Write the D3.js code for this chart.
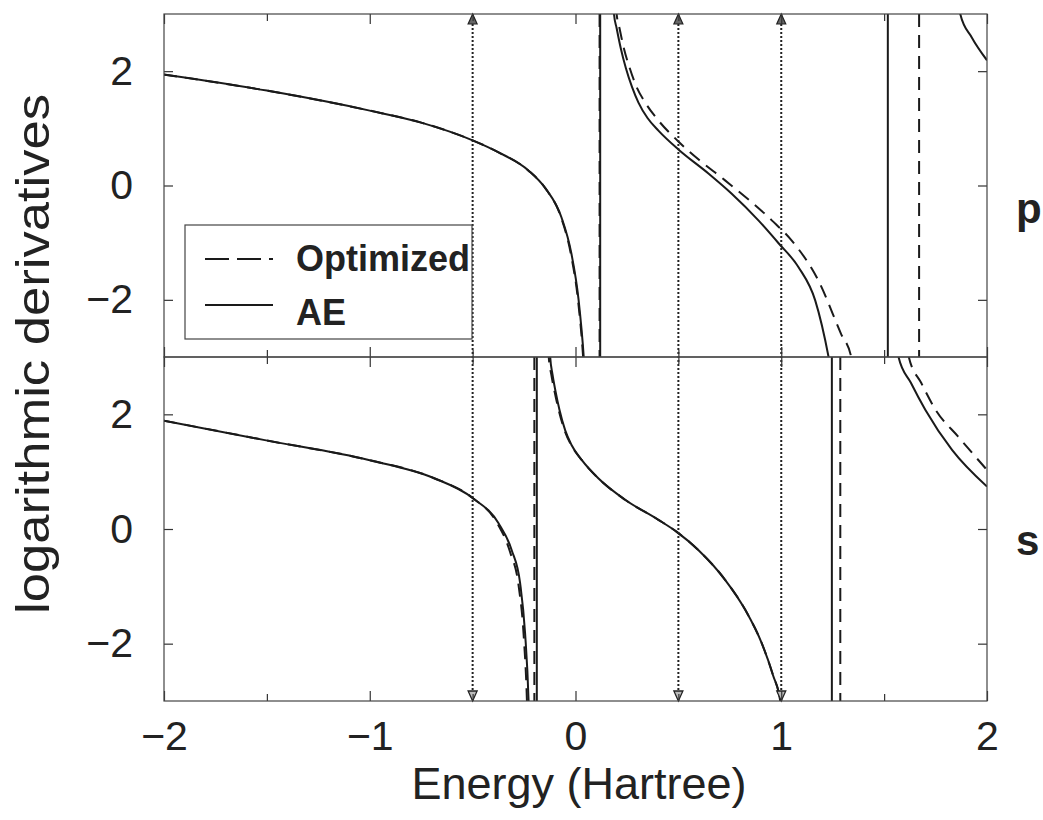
<!DOCTYPE html>
<html>
<head>
<meta charset="utf-8">
<script src="https://cdn.jsdelivr.net/npm/d3@7"></script>
<style>
  body { margin: 0; background: #fff; }
  text { font-family: "Liberation Sans", Arial, sans-serif; fill: #222; }
</style>
</head>
<body>
<svg id="chart" width="1043" height="820"></svg>
<script>
// p channel (top panel), branches between poles: [energy, log derivative]
const pAE1 = [[-2, 1.94], [-1.5, 1.66], [-1, 1.31], [-0.75, 1.1], [-0.5, 0.79], [-0.374, 0.58], [-0.228, 0.26], [-0.146, -0.05], [-0.068, -0.56], [-0.02, -1.19], [0.015, -2.0], [0.04, -3.0], [0.05, -3.6]];
const pOpt1 = [[-2, 1.94], [-1.5, 1.66], [-1, 1.31], [-0.75, 1.1], [-0.5, 0.79], [-0.374, 0.58], [-0.228, 0.26], [-0.146, -0.05], [-0.07, -0.56], [-0.023, -1.19], [0.012, -2.0], [0.037, -3.0], [0.047, -3.6]];
const pAE2 = [[0.18, 3.5], [0.187, 3.0], [0.2, 2.75], [0.22, 2.4], [0.245, 2.05], [0.275, 1.72], [0.306, 1.45], [0.35, 1.18], [0.403, 0.96], [0.5, 0.63], [0.646, 0.21], [0.758, -0.14], [0.889, -0.61], [0.987, -1.01], [1.084, -1.43], [1.165, -2.01], [1.23, -3.0], [1.25, -3.4]];
const pOpt2 = [[0.193, 3.5], [0.2, 3.0], [0.214, 2.75], [0.235, 2.4], [0.262, 2.07], [0.295, 1.74], [0.339, 1.45], [0.4, 1.15], [0.5, 0.77], [0.6, 0.45], [0.727, 0.09], [0.954, -0.61], [1.05, -0.96], [1.18, -1.66], [1.29, -2.59], [1.34, -3.0], [1.355, -3.4]];
const pAE3 = [[1.85, 3.4], [1.87, 3.0], [1.926, 2.59], [2.0, 2.19]];
const pPolesAE = [0.12, 1.518];
const pPolesOpt = [0.117, 1.67];

// s channel (bottom panel)
const sAE1 = [[-2, 1.89], [-1.51, 1.55], [-1.0, 1.2], [-0.69, 0.89], [-0.5, 0.54], [-0.374, 0.1], [-0.31, -0.37], [-0.269, -0.95], [-0.245, -1.82], [-0.228, -3.0], [-0.224, -3.5]];
const sOpt1 = [[-2, 1.89], [-1.51, 1.55], [-1.0, 1.2], [-0.69, 0.89], [-0.5, 0.54], [-0.38, 0.1], [-0.318, -0.4], [-0.276, -1.0], [-0.252, -1.85], [-0.236, -3.0], [-0.232, -3.5]];
const sAE2 = [[-0.127, 3.5], [-0.123, 3.0], [-0.112, 2.7], [-0.097, 2.4], [-0.078, 2.08], [-0.05, 1.72], [-0.02, 1.47], [0.031, 1.2], [0.112, 0.88], [0.241, 0.51], [0.403, 0.16], [0.492, -0.05], [0.598, -0.37], [0.728, -0.89], [0.825, -1.41], [0.906, -2.0], [0.96, -2.55], [0.995, -3.0], [1.005, -3.3]];
const sOpt2 = [[-0.134, 3.5], [-0.13, 3.0], [-0.118, 2.7], [-0.102, 2.4], [-0.082, 2.08], [-0.053, 1.72], [-0.022, 1.47], [0.031, 1.2], [0.112, 0.88], [0.241, 0.51], [0.403, 0.16], [0.492, -0.05], [0.598, -0.37], [0.728, -0.89], [0.825, -1.41], [0.906, -2.0], [0.96, -2.55], [0.995, -3.0], [1.005, -3.3]];
const sAE3 = [[1.55, 3.4], [1.57, 3.0], [1.63, 2.55], [1.70, 2.08], [1.83, 1.38], [2.0, 0.74]];
const sOpt3 = [[1.60, 3.4], [1.62, 3.0], [1.68, 2.55], [1.75, 2.08], [1.86, 1.61], [2.0, 1.03]];
const sPolesAE = [-0.188, 1.246];
const sPolesOpt = [-0.2, 1.287];

// reference energies (dotted arrows)
const arrowE = [-0.5, 0.5, 1.0];

const xTicks = [-2, -1, 0, 1, 2];
const xMinor = [-1.5, -0.5, 0.5, 1.5];
const yTicks = [-2, 0, 2];

const svg = d3.select('#chart');

let x = d3.scaleLinear().domain([-2, 2]).range([164, 987]);
let yTop = d3.scaleLinear().domain([-3, 3]).range([357, 14]);
let yBot = d3.scaleLinear().domain([-3, 3]).range([701, 357]);

const dash = '13,8';
const ink = '#1a1a1a';
const fontFam = '"Liberation Sans", Arial, sans-serif';

function panel(id, y, branchesAE, branchesOpt, polesAE, polesOpt) {
    svg.append('clipPath').attr('id', id)
    .append('rect')
    .attr('x', x(-2)).attr('y', y(3))
    .attr('width', x(2) - x(-2)).attr('height', y(-3) - y(3));

    let g = svg.append('g').attr('clip-path', `url(#${id})`);

    let line = d3.line()
    .curve(d3.curveMonotoneX)
    .x(d => x(d[0]))
    .y(d => y(d[1]));

    branchesOpt.forEach(b => {
        g.append('path').datum(b)
        .attr('fill', 'none').attr('stroke', ink)
        .attr('stroke-width', 2).attr('stroke-dasharray', dash)
        .attr('d', line);
    });
    branchesAE.forEach(b => {
        g.append('path').datum(b)
        .attr('fill', 'none').attr('stroke', ink)
        .attr('stroke-width', 2)
        .attr('d', line);
    });

    // poles drawn as the vertical jump of the curve
    g.selectAll(null).data(polesOpt).enter().append('line')
    .attr('x1', d => x(d)).attr('x2', d => x(d))
    .attr('y1', y(3)).attr('y2', y(-3))
    .attr('stroke', ink).attr('stroke-width', 2).attr('stroke-dasharray', dash);
    g.selectAll(null).data(polesAE).enter().append('line')
    .attr('x1', d => x(d)).attr('x2', d => x(d))
    .attr('y1', y(3)).attr('y2', y(-3))
    .attr('stroke', ink).attr('stroke-width', 2);
}

panel('clipP', yTop, [pAE1, pAE2, pAE3], [pOpt1, pOpt2], pPolesAE, pPolesOpt);
panel('clipS', yBot, [sAE1, sAE2, sAE3], [sOpt1, sOpt2, sOpt3], sPolesAE, sPolesOpt);

// dotted reference lines with arrow heads
svg.selectAll(null).data(arrowE).enter().append('line')
.attr('x1', d => x(d)).attr('x2', d => x(d))
.attr('y1', yTop(3) + 6).attr('y2', yBot(-3) - 6)
.attr('stroke', '#222').attr('stroke-width', 2).attr('stroke-dasharray', '2,2');

svg.selectAll(null).data(arrowE).enter().append('path')
.attr('d', d => `M${x(d)},${yTop(3)} l-4.5,10 l9,0 z`)
.attr('fill', '#666').attr('stroke', '#222').attr('stroke-width', 1.2);
svg.selectAll(null).data(arrowE).enter().append('path')
.attr('d', d => `M${x(d)},${yBot(-3)} l-4.5,-10 l9,0 z`)
.attr('fill', '#bbb').attr('stroke', '#222').attr('stroke-width', 1.3);

// axes
function axes(y, showX) {
    let fs = 41;
    let left = svg.append('g').attr('transform', `translate(${x(-2)},0)`)
    .call(d3.axisLeft(y).tickValues(yTicks).tickSize(-9).tickPadding(31).tickFormat(d3.format('d')));
    left.selectAll('text').attr('font-size', fs).attr('font-family', fontFam).attr('fill', '#222');

    svg.append('g').attr('transform', `translate(${x(2)},0)`)
    .call(d3.axisRight(y).tickValues(yTicks).tickSize(-9).tickFormat(''));

    svg.append('g').attr('transform', `translate(0,${y(3)})`)
    .call(d3.axisTop(x).tickValues(xTicks).tickSize(-10).tickFormat(''));
    svg.append('g').attr('transform', `translate(0,${y(3)})`)
    .call(d3.axisTop(x).tickValues(xMinor).tickSize(-7).tickFormat(''));

    let bottom = svg.append('g').attr('transform', `translate(0,${y(-3)})`)
    .call(d3.axisBottom(x).tickValues(xTicks).tickSize(-10).tickPadding(20)
        .tickFormat(showX ? d3.format('d') : ''));
    bottom.selectAll('text').attr('font-size', fs).attr('font-family', fontFam).attr('fill', '#222');
    svg.append('g').attr('transform', `translate(0,${y(-3)})`)
    .call(d3.axisBottom(x).tickValues(xMinor).tickSize(-7).tickFormat(''));

    svg.append('rect')
    .attr('x', x(-2)).attr('y', y(3))
    .attr('width', x(2) - x(-2)).attr('height', y(-3) - y(3))
    .attr('fill', 'none').attr('stroke', '#444').attr('stroke-width', 1.2);
}
axes(yTop, false);
axes(yBot, true);
svg.selectAll('.domain').remove();
svg.selectAll('.tick line').attr('stroke', '#333').attr('stroke-width', 1.2);

// legend
let lg = svg.append('g');
lg.append('rect').attr('x', 185).attr('y', 225).attr('width', 287).attr('height', 114)
.attr('fill', '#fff').attr('stroke', '#444').attr('stroke-width', 1.2);
lg.append('line').attr('x1', 205).attr('x2', 273).attr('y1', 259).attr('y2', 259)
.attr('stroke', ink).attr('stroke-width', 2).attr('stroke-dasharray', '24,8');
lg.append('line').attr('x1', 205).attr('x2', 273).attr('y1', 305).attr('y2', 305)
.attr('stroke', ink).attr('stroke-width', 2);
lg.append('text').attr('x', 296).attr('y', 271).attr('font-size', 36).attr('font-weight', 'bold').text('Optimized');
lg.append('text').attr('x', 296).attr('y', 325).attr('font-size', 36).attr('font-weight', 'bold').text('AE');

// panel labels
svg.append('text').attr('x', 1016).attr('y', 223).attr('font-size', 42).attr('font-weight', 'bold').text('p');
svg.append('text').attr('x', 1016).attr('y', 555).attr('font-size', 42).attr('font-weight', 'bold').text('s');

// axis titles
svg.append('text').attr('x', 579).attr('y', 799).attr('text-anchor', 'middle')
.attr('font-size', 45).text('Energy (Hartree)');
svg.append('text').attr('transform', 'translate(49,354) rotate(-90)').attr('text-anchor', 'middle')
.attr('font-size', 46).attr('textLength', 520).attr('lengthAdjust', 'spacingAndGlyphs')
.text('logarithmic derivatives');
</script>
</body>
</html>
